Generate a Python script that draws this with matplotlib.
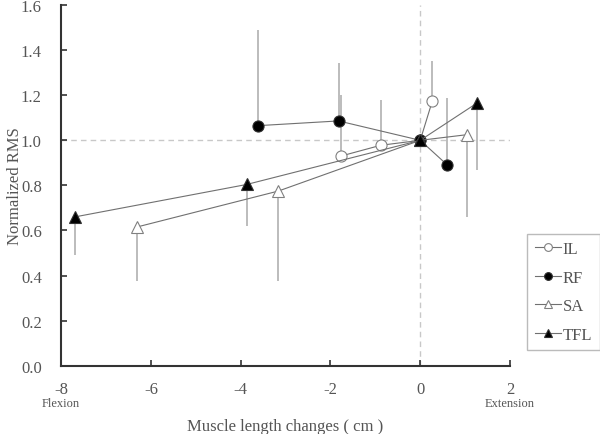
import numpy as np
import matplotlib.pyplot as plt

plt.rcParams['font.family'] = ['Liberation Serif', 'DejaVu Serif']
plt.rcParams['axes.unicode_minus'] = False

# muscle length change (cm), normalized RMS and one-sided SD
il_x = [-1.77, -0.88, 0.0, 0.27]
il_y = [0.93, 0.978, 1.0, 1.175]
il_err = [0.27, 0.20, 0.0, 0.176]

rf_x = [-3.62, -1.82, 0.0, 0.595]
rf_y = [1.065, 1.086, 1.0, 0.892]
rf_err = [0.424, 0.259, 0.0, 0.296]

sa_x = [-6.32, -3.16, 0.0, 1.04]
sa_y = [0.615, 0.775, 1.0, 1.025]
sa_err = [0.237, 0.397, 0.0, 0.365]

tfl_x = [-7.70, -3.87, 0.0, 1.27]
tfl_y = [0.66, 0.804, 1.0, 1.166]
tfl_err = [0.168, 0.182, 0.0, 0.299]

fig = plt.figure(figsize=(6, 4.35), dpi=100)
ax = fig.add_axes([0.102, 0.157, 0.748, 0.829])

ax.axhline(1.0, color='#c8c8c8', ls=(0, (4, 3)), lw=1, zorder=0)
ax.axvline(0.0, color='#c8c8c8', ls=(0, (4, 3)), lw=1, zorder=0)

line_c = '#707070'
bar_c = '#b0b0b0'

# error bars: IL and RF go up, SA and TFL go down
ax.errorbar(il_x, il_y, yerr=[np.zeros(4), il_err], fmt='none', ecolor=bar_c, elinewidth=1.2, zorder=1)
ax.errorbar(rf_x, rf_y, yerr=[np.zeros(4), rf_err], fmt='none', ecolor=bar_c, elinewidth=1.2, zorder=1)
ax.errorbar(sa_x, sa_y, yerr=[sa_err, np.zeros(4)], fmt='none', ecolor=bar_c, elinewidth=1.2, zorder=1)
ax.errorbar(tfl_x, tfl_y, yerr=[tfl_err, np.zeros(4)], fmt='none', ecolor=bar_c, elinewidth=1.2, zorder=1)

ax.plot(il_x, il_y, '-o', color=line_c, lw=0.8, ms=8, mfc='white', mec='#808080', mew=0.8, label='IL', zorder=3)
ax.plot(rf_x, rf_y, '-o', color=line_c, lw=0.8, ms=8, mfc='black', mec='#303030', mew=0.8, label='RF', zorder=3)
ax.plot(sa_x, sa_y, '-^', color=line_c, lw=0.8, ms=9, mfc='white', mec='#808080', mew=0.8, label='SA', zorder=3)
ax.plot(tfl_x, tfl_y, '-^', color=line_c, lw=0.8, ms=8, mfc='black', mec='#303030', mew=0.8, label='TFL', zorder=3)

ax.set_xlim(-8, 2)
ax.set_ylim(0, 1.6)
ax.set_xticks(np.arange(-8, 3, 2))
ax.set_yticks(np.arange(0, 1.61, 0.2))
ax.set_yticklabels([f'{v:.1f}' for v in np.arange(0, 1.61, 0.2)])
ax.tick_params(direction='in', length=4, width=1.2, colors='#333333', labelcolor='#555555', labelsize=12)
ax.tick_params(axis='y', pad=14)
ax.tick_params(axis='x', pad=11)

for s in ['top', 'right']:
    ax.spines[s].set_visible(False)
for s in ['left', 'bottom']:
    ax.spines[s].set_linewidth(1.5)
    ax.spines[s].set_color('#333333')

ax.set_ylabel('Normalized RMS', fontsize=12, color='#555555')
ax.yaxis.set_label_coords(-0.086, 0.5)
ax.set_xlabel('Muscle length changes ( cm )', fontsize=12, color='#555555')
ax.xaxis.set_label_coords(0.5, -0.145)

ax.text(-8, -0.165, 'Flexion', ha='center', va='center', fontsize=9, color='#555555')
ax.text(2, -0.165, 'Extension', ha='center', va='center', fontsize=9, color='#555555')

leg = ax.legend(loc='center left', bbox_to_anchor=(1.038, 0.205), fontsize=12, frameon=True,
                fancybox=False, edgecolor='#aaaaaa', handlelength=1.6, handletextpad=0.1,
                labelspacing=0.75, borderpad=0.45, borderaxespad=0, markerscale=0.7,
                labelcolor='#555555')
leg.get_frame().set_linewidth(1.0)

fig.savefig('out.png', dpi=100)
